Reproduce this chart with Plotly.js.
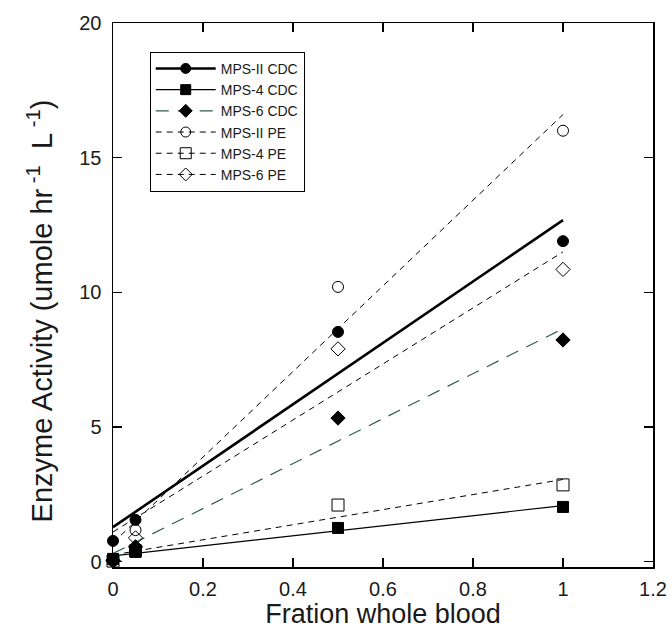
<!DOCTYPE html>
<html>
<head>
<meta charset="utf-8">
<script src="https://cdn.plot.ly/plotly-3.0.1.min.js"></script>
<style>html,body{margin:0;padding:0;background:#fff;}#chart{width:672px;height:639px;}</style>
</head>
<body>
<div id="chart"></div>
<script>
// Data
var fraction = [0, 0.05, 0.5, 1];
var mps2CDC = [0.77, 1.55, 8.53, 11.9];
var mps4CDC = [0.10, 0.36, 1.25, 2.03];
var mps6CDC = [0.05, 0.55, 5.33, 8.23];
var mps2PE  = [0.02, 1.17, 10.2, 16.0];
var mps4PE  = [0.02, 0.40, 2.10, 2.85];
var mps6PE  = [0.03, 0.88, 7.90, 10.85];

// Fitted lines (values at the ends)
var fitX = [0, 1];
var fit2CDC = [1.28, 12.68];
var fit4CDC = [0.21, 2.08];
var fit6CDC = [0.30, 8.65];
var fit2PE  = [0.70, 16.6];
var fit4PE  = [0.25, 3.05];
var fit6PE  = [1.10, 11.5];

var names = ['MPS-II CDC', 'MPS-4 CDC', 'MPS-6 CDC', 'MPS-II PE', 'MPS-4 PE', 'MPS-6 PE'];
var pts = [mps2CDC, mps4CDC, mps6CDC, mps2PE, mps4PE, mps6PE];
var fits = [fit2CDC, fit4CDC, fit6CDC, fit2PE, fit4PE, fit6PE];

var styles = [
  {sym: 'circle', size: 10, lw: 2.6, dash: 'solid', lc: '#000'},
  {sym: 'square', size: 10, lw: 1.2, dash: 'solid', lc: '#000'},
  {sym: 'diamond', size: 10, lw: 1.2, dash: '13px,9px', lc: '#2f5f48'},
  {sym: 'circle-open', size: 10, lw: 1, dash: '6px,5px', lc: '#000'},
  {sym: 'square-open', size: 11, lw: 1, dash: '6px,5px', lc: '#000'},
  {sym: 'diamond-open', size: 10, lw: 1, dash: '6px,5px', lc: '#000'}
];

var traces = [];
for (var i = 0; i < names.length; i++) {
  var s = styles[i];
  traces.push({
    x: fitX, y: fits[i], type: 'scatter', mode: 'lines+markers', name: names[i],
    line: {color: s.lc, width: s.lw, dash: s.dash},
    marker: {symbol: s.sym, size: s.size, color: '#000', line: {color: '#000', width: 1}},
    selectedpoints: [],
    unselected: {marker: {opacity: 0}},
    hoverinfo: 'skip'
  });
}
for (var j = 0; j < names.length; j++) {
  var st = styles[j];
  traces.push({
    x: fraction, y: pts[j], type: 'scatter', mode: 'markers', name: names[j],
    showlegend: false,
    marker: {symbol: st.sym, size: st.size + 1, color: '#000', line: {color: '#000', width: 1}},
    cliponaxis: false
  });
}

var layout = {
  width: 672, height: 639,
  margin: {l: 113, r: 19, t: 23, b: 72},
  paper_bgcolor: '#fff', plot_bgcolor: '#fff',
  font: {family: 'Liberation Sans, Arial, sans-serif', color: '#1a1a1a', size: 16},
  showlegend: true,
  legend: {
    x: 0.068, y: 0.947, xanchor: 'left', yanchor: 'top',
    bgcolor: '#fff', bordercolor: '#000', borderwidth: 1,
    font: {size: 14, color: '#1a1a1a'},
    tracegroupgap: 0, itemwidth: 60
  },
  xaxis: {
    range: [0, 1.2], tickvals: [0, 0.2, 0.4, 0.6, 0.8, 1, 1.2],
    ticktext: ['0', '0.2', '0.4', '0.6', '0.8', '1', '1.2'],
    showline: true, linecolor: '#000', linewidth: 1.5, mirror: 'ticks',
    ticks: 'inside', ticklen: 9, tickwidth: 1.2, tickcolor: '#000',
    showgrid: false, zeroline: false,
    tickfont: {size: 20}, ticklabelstandoff: 3,
    title: {text: 'Fration whole blood', font: {size: 27}, standoff: 5}
  },
  yaxis: {
    range: [-0.2, 20], tickvals: [0, 5, 10, 15, 20],
    showline: true, linecolor: '#000', linewidth: 1.5, mirror: 'ticks',
    ticks: 'inside', ticklen: 9, tickwidth: 1.2, tickcolor: '#000',
    showgrid: false, zeroline: false,
    tickfont: {size: 20}, ticklabelstandoff: 6
  },
  annotations: [{
    text: 'Enzyme Activity (umole hr<sup> -1</sup>  L<sup> -1</sup>)',
    xref: 'paper', yref: 'paper', x: -0.135, y: 0.47,
    xanchor: 'center', yanchor: 'middle', textangle: -90, showarrow: false,
    font: {size: 29, color: '#1a1a1a'}
  }]
};

Plotly.newPlot('chart', traces, layout, {displayModeBar: false, staticPlot: true});
</script>
</body>
</html>
